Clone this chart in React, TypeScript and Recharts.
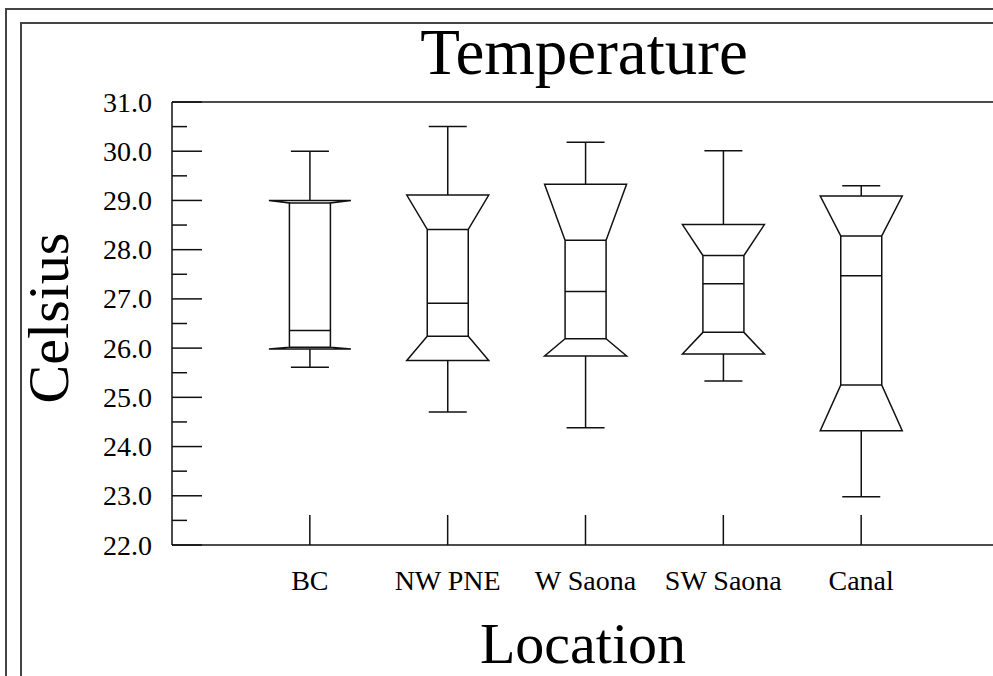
import React from 'react';
import { ComposedChart, Bar, XAxis, YAxis, ReferenceLine } from 'recharts';

// Sites along the x axis
const locations = ['BC', 'NW PNE', 'W Saona', 'SW Saona', 'Canal'];

// Notched box statistics per site (°C)
const whiskerLow = [25.61, 24.7, 24.38, 25.33, 22.98];
const q1 = [25.98, 25.75, 25.84, 25.88, 24.32];
const notchLow = [26.02, 26.24, 26.19, 26.32, 25.25];
const median = [26.36, 26.91, 27.15, 27.31, 27.47];
const notchHigh = [28.95, 28.41, 28.19, 27.88, 28.28];
const q3 = [29.0, 29.11, 29.33, 28.51, 29.09];
const whiskerHigh = [30.0, 30.5, 30.18, 30.01, 29.3];

const yTicks = [22, 22.5, 23, 23.5, 24, 24.5, 25, 25.5, 26, 26.5, 27, 27.5, 28, 28.5, 29, 29.5, 30, 30.5, 31];
const xTicks = [1, 2, 3, 4, 5];

const rows = locations.map((name, i) => ({
  pos: i + 1,
  name,
  range: [whiskerLow[i], whiskerHigh[i]],
  q1: q1[i],
  notchLow: notchLow[i],
  median: median[i],
  notchHigh: notchHigh[i],
  q3: q3[i],
}));

const FONT = '"Liberation Serif", "Times New Roman", serif';
const INK = '#111';

const NotchedBox = (props: any) => {
  const { x, y, width, height, payload } = props;
  const [lo, hi] = payload.range;
  const yOf = (v: number) => y + (height * (hi - v)) / (hi - lo);
  const cx = x + width / 2;
  const wide = width / 2;
  const narrow = width / 4;
  const cap = 19;
  const yQ3 = yOf(payload.q3);
  const yNh = yOf(payload.notchHigh);
  const yNl = yOf(payload.notchLow);
  const yQ1 = yOf(payload.q1);
  const yMed = yOf(payload.median);
  const outline = [
    [cx - wide, yQ3],
    [cx + wide, yQ3],
    [cx + narrow, yNh],
    [cx + narrow, yNl],
    [cx + wide, yQ1],
    [cx - wide, yQ1],
    [cx - narrow, yNl],
    [cx - narrow, yNh],
  ]
    .map((p) => p.join(','))
    .join(' ');
  return (
    <g stroke={INK} strokeWidth={1.5} fill="none">
      <line x1={cx} x2={cx} y1={y} y2={yQ3} />
      <line x1={cx - cap} x2={cx + cap} y1={y} y2={y} />
      <line x1={cx} x2={cx} y1={yQ1} y2={y + height} />
      <line x1={cx - cap} x2={cx + cap} y1={y + height} y2={y + height} />
      <polygon points={outline} />
      <line x1={cx - narrow} x2={cx + narrow} y1={yNh} y2={yNh} />
      <line x1={cx - narrow} x2={cx + narrow} y1={yNl} y2={yNl} />
      <line x1={cx - narrow} x2={cx + narrow} y1={yMed} y2={yMed} />
    </g>
  );
};

const YTick = (props: any) => {
  const { x, y, payload } = props;
  const major = Number.isInteger(payload.value);
  return (
    <g>
      <line x1={x} x2={x + (major ? 30 : 15)} y1={y} y2={y} stroke={INK} strokeWidth={1.5} />
      {major && (
        <text x={x - 20} y={y + 9.5} textAnchor="end" fontFamily={FONT} fontSize={28} fill="#000">
          {payload.value.toFixed(1)}
        </text>
      )}
    </g>
  );
};

const XTick = (props: any) => {
  const { x, y, payload } = props;
  return (
    <g>
      <line x1={x} x2={x} y1={y} y2={y - 30} stroke={INK} strokeWidth={1.5} />
      <text x={x} y={y + 45} textAnchor="middle" fontFamily={FONT} fontSize={28} fill="#000">
        {locations[payload.value - 1]}
      </text>
    </g>
  );
};

export default function App() {
  return (
    <div
      style={{
        position: 'fixed',
        left: 0,
        top: 0,
        width: 993,
        height: 676,
        overflow: 'hidden',
        background: '#fff',
      }}
    >
      <svg width={993} height={676} style={{ position: 'absolute', left: 0, top: 0 }}>
        <path d="M6,676 L6,9 L993,9" stroke="#444" strokeWidth={2} fill="none" />
        <path d="M21,676 L21,23 L993,23" stroke="#444" strokeWidth={2} fill="none" />
        <text x={584} y={74} textAnchor="middle" fontFamily={FONT} fontSize={65}>
          Temperature
        </text>
        <text
          x={68}
          y={318}
          transform="rotate(-90, 68, 318)"
          textAnchor="middle"
          fontFamily={FONT}
          fontSize={58}
        >
          Celsius
        </text>
        <text x={583} y={663} textAnchor="middle" fontFamily={FONT} fontSize={58}>
          Location
        </text>
      </svg>
      <div style={{ position: 'absolute', left: 0, top: 0 }}>
        <ComposedChart
          width={1010}
          height={676}
          data={rows}
          margin={{ top: 102, right: 11, left: 72, bottom: 71 }}
        >
          <XAxis
            dataKey="pos"
            type="number"
            domain={[0, 6]}
            ticks={xTicks}
            interval={0}
            height={60}
            tickSize={0}
            tickMargin={0}
            tick={<XTick />}
            axisLine={{ stroke: INK, strokeWidth: 1.5 }}
          />
          <YAxis
            type="number"
            domain={[22, 31]}
            ticks={yTicks}
            interval={0}
            width={100}
            tickSize={0}
            tickMargin={0}
            tick={<YTick />}
            axisLine={{ stroke: INK, strokeWidth: 1.5 }}
          />
          <ReferenceLine y={31} stroke={INK} strokeWidth={1.5} />
          <Bar dataKey="range" barSize={82} shape={<NotchedBox />} isAnimationActive={false} />
        </ComposedChart>
      </div>
    </div>
  );
}
